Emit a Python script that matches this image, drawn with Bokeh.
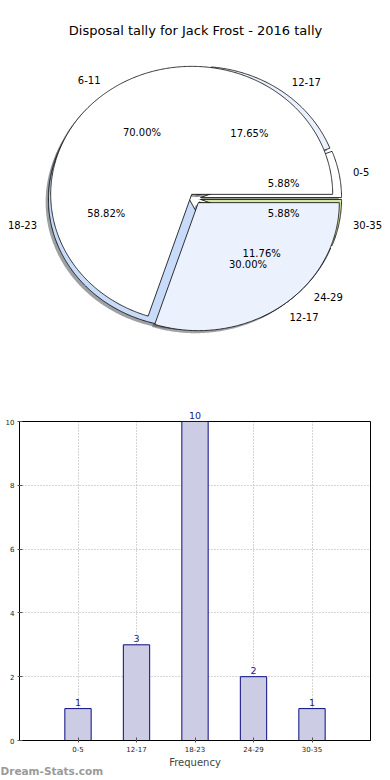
import numpy as np
from bokeh.plotting import figure
from bokeh.models import (Range1d, ColumnDataSource, Label, LabelSet,
                          FixedTicker, LinearAxis, Grid)
from bokeh.core.properties import value
from bokeh.layouts import column
from bokeh.embed import file_html
from bokeh.resources import INLINE

# ---------------- data ----------------
title_text = "Disposal tally for Jack Frost - 2016 tally"
categories = ["0-5", "12-17", "18-23", "24-29", "30-35"]
counts = [1, 3, 10, 2, 1]
pie1_colors = ["#FFFFFF", "#EAF0FC", "#C8DBF9", "#DCE6F6", "#D5E8A0"]
pie2_labels = ["6-11", "12-17"]
pie2_values = [70, 30]
pie2_colors = ["#FFFFFF", "#EBF1FD"]
y_ticks = [0, 2, 4, 6, 8, 10]
x_label = "Frequency"
watermark = "Dream-Stats.com"

FONT = "DejaVu Sans"
EXPLODE = 0.04


def pie_geometry(values, e=EXPLODE):
    v = np.asarray(values, float)
    frac = v / v.sum()
    ends = np.cumsum(frac) * 2 * np.pi
    starts = ends - frac * 2 * np.pi
    polys_x, polys_y, cxs, cys, mids = [], [], [], [], []
    for t1, t2 in zip(starts, ends):
        mid = 0.5 * (t1 + t2)
        cx, cy = e * np.cos(mid), e * np.sin(mid)
        n = max(int(np.degrees(t2 - t1)) * 2, 4)
        t = np.linspace(t1, t2, n)
        polys_x.append(np.concatenate([[cx], cx + np.cos(t), [cx]]))
        polys_y.append(np.concatenate([[cy], cy + np.sin(t), [cy]]))
        cxs.append(cx); cys.append(cy); mids.append(mid)
    return frac, polys_x, polys_y, np.array(cxs), np.array(cys), np.array(mids)


def shade(hexcol):
    h = hexcol.lstrip("#")
    r, g, b = (int(h[i:i + 2], 16) for i in (0, 2, 4))
    return "#%02x%02x%02x" % (int(r * 0.3), int(g * 0.3), int(b * 0.3))


# ---------------- pie figure ----------------
PW, PH = 390, 393
RX, RY = 141.0, 128.0
CX, CY = 194.5, 198.0  # pie centre in figure pixels (from left / from top)
pie = figure(width=PW, height=PH, output_backend="svg", toolbar_location=None,
             x_range=Range1d(-CX / RX, (PW - CX) / RX),
             y_range=Range1d(-(PH - CY) / RY, CY / RY),
             x_axis_type=None, y_axis_type=None, min_border=0)
pie.grid.visible = False
pie.outline_line_color = None

g1 = pie_geometry(counts)
g2 = pie_geometry(pie2_values)

for g, cols in ((g1, pie1_colors), (g2, pie2_colors)):
    _, px, py, _, _, _ = g
    pie.patches(xs=[x - 0.02 for x in px], ys=[y - 0.02 for y in py],
                fill_color=[shade(c) for c in cols], fill_alpha=0.5,
                line_color=None)

for g, cols in ((g1, pie1_colors), (g2, pie2_colors)):
    _, px, py, _, _, _ = g
    pie.patches(xs=px, ys=py, fill_color=cols, line_color="black",
                line_width=0.8)


def add_pie_texts(g, labels):
    frac, _, _, cx, cy, mid = g
    lx = cx + 1.1 * np.cos(mid)
    ly = cy + 1.1 * np.sin(mid)
    right = lx > 0
    for mask, align in ((right, "left"), (~right, "right")):
        src = ColumnDataSource(dict(x=lx[mask], y=ly[mask],
                                    t=[l for l, m in zip(labels, mask) if m]))
        pie.add_layout(LabelSet(x="x", y="y", text="t", source=src,
                                text_align=align, text_baseline="middle",
                                text_font=value(FONT), text_font_size="10px",
                                text_color="black"))
    px_ = cx + 0.6 * np.cos(mid)
    py_ = cy + 0.6 * np.sin(mid)
    src = ColumnDataSource(dict(x=px_, y=py_,
                                t=["%.2f%%" % (f * 100) for f in frac]))
    pie.add_layout(LabelSet(x="x", y="y", text="t", source=src,
                            text_align="center", text_baseline="middle",
                            text_font=value(FONT), text_font_size="10px",
                            text_color="black"))


add_pie_texts(g1, categories)
add_pie_texts(g2, pie2_labels)

pie.add_layout(Label(x=195, y=PH - 30, x_units="screen", y_units="screen",
                     text=title_text, text_align="center",
                     text_baseline="middle", text_font=FONT,
                     text_font_size="13px", text_color="black"))

# ---------------- bar figure (frame covers the whole figure) ----------------
BW, BH = 390, 387
n_slots = len(categories) + 1
xs = list(range(1, n_slots))
ymax = y_ticks[-1]
FRAME_W, FRAME_H = 351.0, 319.0
PXU_X = FRAME_W / n_slots
PXU_Y = FRAME_H / ymax
LEFT_PX, TOP_PX = 19.0, 28.0
x_rng = Range1d(-LEFT_PX / PXU_X, n_slots + (BW - LEFT_PX - FRAME_W) / PXU_X)
y_rng = Range1d(-(BH - TOP_PX - FRAME_H) / PXU_Y, ymax + TOP_PX / PXU_Y)

bars = figure(width=BW, height=BH, output_backend="svg", toolbar_location=None,
              x_range=x_rng, y_range=y_rng, x_axis_type=None,
              y_axis_type=None, min_border=0)
bars.outline_line_color = None

xgrid = Grid(dimension=0, ticker=FixedTicker(ticks=xs),
             cross_bounds=(0, ymax),
             grid_line_color="#aaaaaa", grid_line_dash="1 2")
ygrid = Grid(dimension=1, ticker=FixedTicker(ticks=y_ticks),
             cross_bounds=(0, n_slots), grid_line_color="#aaaaaa",
             grid_line_dash="1 2")
bars.add_layout(xgrid)
bars.add_layout(ygrid)

bars.quad(left=0, right=n_slots, bottom=0, top=ymax, fill_color=None,
          line_color="black", line_width=1)

bsrc = ColumnDataSource(dict(x=xs, top=counts, t=[str(c) for c in counts]))
bars.vbar(x="x", top="top", bottom=0, width=0.45, source=bsrc,
          fill_color="#CCCCE4", line_color="#0b0b80", line_width=1)
bars.add_layout(LabelSet(x="x", y="top", text="t", source=bsrc,
                         text_align="center", text_baseline="bottom",
                         y_offset=3, text_font=value(FONT),
                         text_font_size="9.5px", text_color="#1a1a88"))

xaxis = LinearAxis(fixed_location=0, bounds=(0, n_slots),
                   ticker=FixedTicker(ticks=xs),
                   major_label_overrides={x: c for x, c in zip(xs, categories)},
                   axis_label=x_label, axis_label_text_font=FONT,
                   axis_label_text_font_size="10px",
                   axis_label_text_font_style="normal",
                   axis_label_standoff=2)
yaxis = LinearAxis(fixed_location=0, bounds=(0, ymax),
                   ticker=FixedTicker(ticks=y_ticks))
for ax in (xaxis, yaxis):
    ax.major_label_text_font = FONT
    ax.major_label_text_font_size = "7px"
    ax.major_label_text_color = "#222222"
    ax.major_tick_in = 3
    ax.major_tick_out = 2
    ax.minor_tick_in = 0
    ax.minor_tick_out = 0
    ax.axis_line_color = "black"
    ax.major_tick_line_color = "#555555"
xaxis.major_label_standoff = 3
yaxis.major_label_standoff = 3
bars.add_layout(xaxis, "below")
bars.add_layout(yaxis, "left")

bars.add_layout(Label(x=0, y=BH - 377, x_units="screen", y_units="screen",
                      text=watermark, text_align="left",
                      text_baseline="middle", text_font=FONT,
                      text_font_size="10.5px", text_font_style="bold",
                      text_color="#9a9a9a"))

layout = column(pie, bars, spacing=0)
open("out.html", "w").write(file_html(layout, INLINE))
